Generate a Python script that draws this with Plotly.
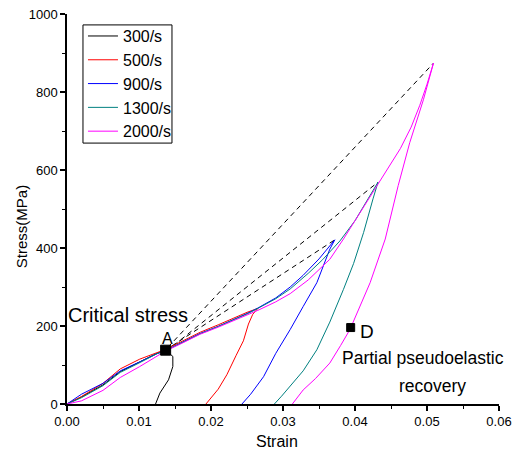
import plotly.graph_objects as go

# ---- data ----
labels = ["300/s", "500/s", "900/s", "1300/s", "2000/s"]
colors = ["#000000", "#ff0000", "#0000ff", "#008080", "#ff00ff"]

strain_300 = [0, 0.002, 0.005, 0.0074, 0.0101, 0.0125, 0.0137, 0.0147, 0.0147, 0.0141, 0.0129, 0.0123]
stress_300 = [0, 18, 49, 83, 108, 130, 138, 122, 96, 62, 28, 0]

strain_500 = [0, 0.002, 0.005, 0.0074, 0.0101, 0.0125, 0.0137, 0.0160, 0.0185, 0.0210, 0.0231, 0.0250, 0.0265,
              0.0258, 0.0252, 0.0245, 0.0235, 0.0222, 0.0210, 0.0200, 0.0193]
stress_500 = [0, 19, 53, 90, 115, 133, 140, 161, 184, 203, 220, 235, 245,
              230, 205, 162, 125, 75, 38, 15, 0]

strain_900 = [0, 0.002, 0.005, 0.0074, 0.0101, 0.0125, 0.0137, 0.0160, 0.0185, 0.0210, 0.0231, 0.0250, 0.0265,
              0.0290, 0.0310, 0.0328, 0.0350, 0.0372,
              0.0365, 0.0347, 0.0328, 0.0310, 0.0290, 0.0273, 0.0255, 0.0243]
stress_900 = [0, 25, 53, 85, 108, 129, 137, 158, 181, 199, 216, 232, 246,
              272, 300, 330, 372, 421,
              397, 311, 250, 191, 130, 70, 25, 0]

strain_1300 = [0, 0.002, 0.005, 0.0074, 0.0101, 0.0125, 0.0137, 0.0160, 0.0185, 0.0210, 0.0231, 0.0250, 0.0265,
               0.0290, 0.0310, 0.0335, 0.0355, 0.0379, 0.0400, 0.0416, 0.0432,
               0.0425, 0.0412, 0.0398, 0.0384, 0.0365, 0.0347, 0.0328, 0.0310, 0.0298, 0.0288]
stress_1300 = [0, 16, 47, 81, 106, 129, 137, 157, 180, 199, 215, 231, 245,
               270, 295, 335, 370, 418, 470, 520, 569,
               526, 440, 360, 294, 210, 139, 85, 45, 20, 0]

strain_2000 = [0, 0.002, 0.005, 0.0074, 0.0101, 0.0125, 0.0137, 0.0160, 0.0185, 0.0210, 0.0231, 0.0250, 0.0265,
               0.0290, 0.0310, 0.0335, 0.0365, 0.0384, 0.0405, 0.0428, 0.0445, 0.0463, 0.0478, 0.0490, 0.0500, 0.0509,
               0.0495, 0.0476, 0.0460, 0.0442, 0.0421, 0.0405, 0.0393, 0.0380, 0.0365, 0.0345, 0.0328, 0.0313]
stress_2000 = [0, 8, 35, 68, 96, 124, 136, 156, 179, 197, 213, 228, 240,
               262, 283, 318, 371, 423, 485, 550, 600, 655, 710, 766, 820, 874,
               780, 670, 560, 423, 311, 240, 191, 150, 105, 65, 36, 0]

series_strain = [strain_300, strain_500, strain_900, strain_1300, strain_2000]
series_stress = [stress_300, stress_500, stress_900, stress_1300, stress_2000]

# dashed guide lines (start near A, end at peaks)
dash_strain = [[0.0145, 0.0372], [0.0148, 0.0432], [0.0140, 0.0509]]
dash_stress = [[148, 421], [150, 569], [145, 874]]

point_strain = [0.0137, 0.0394]
point_stress = [138, 196]

x_ticks = [0.00, 0.01, 0.02, 0.03, 0.04, 0.05, 0.06]
y_ticks = [0, 200, 400, 600, 800, 1000]

FONT = "Arial, 'Liberation Sans', sans-serif"

fig = go.Figure()
for xs, ys in zip(dash_strain, dash_stress):
    fig.add_trace(go.Scatter(x=xs, y=ys, mode="lines", showlegend=False,
                             line=dict(color="black", width=1, dash="5px,4px")))
for lab, col, xs, ys in zip(labels, colors, series_strain, series_stress):
    fig.add_trace(go.Scatter(x=xs, y=ys, mode="lines", name=lab,
                             line=dict(color=col, width=1)))
fig.add_trace(go.Scatter(x=point_strain, y=point_stress, mode="markers", showlegend=False,
                         marker=dict(symbol="square", color="#000000", size=[10, 8], opacity=1,
                                     line=dict(width=1, color="#000000"))))

ann = [
    dict(x=0.00847, y=229, text="Critical stress", size=20),
    dict(x=0.0139, y=168, text="A", size=16),
    dict(x=0.0417, y=187, text="D", size=19),
    dict(x=0.0494, y=119, text="Partial pseudoelastic", size=17.5),
    dict(x=0.0507, y=47, text="recovery", size=17.5),
]
for a in ann:
    fig.add_annotation(x=a["x"], y=a["y"], text=a["text"], showarrow=False,
                       xanchor="center", yanchor="middle",
                       font=dict(family=FONT, color="black", size=a["size"]))

# axis titles placed as annotations (reference titles are off-centre)
fig.add_annotation(x=-0.1065, y=0.456, xref="paper", yref="paper", text="Stress(MPa)",
                   textangle=-90, showarrow=False, xanchor="center", yanchor="middle",
                   font=dict(family=FONT, size=15, color="black"))
fig.add_annotation(x=0.486, y=-0.095, xref="paper", yref="paper", text="Strain",
                   showarrow=False, xanchor="center", yanchor="middle",
                   font=dict(family=FONT, size=16, color="black"))

# legend frame drawn to the reference's box size
fig.add_shape(type="rect", xref="paper", yref="paper", x0=0.037, x1=0.243, y0=0.669, y1=0.972,
              line=dict(color="black", width=1), fillcolor="rgba(0,0,0,0)", layer="above")

axis_common = dict(showline=True, linecolor="black", linewidth=1.5, ticks="outside",
                   tickcolor="black", ticklen=5, tickwidth=1.5, showgrid=False, zeroline=False,
                   automargin=False,
                   tickfont=dict(family=FONT, size=13, color="black"),
                   minor=dict(ticks="outside", ticklen=3, tickcolor="black", tickwidth=1))

fig.update_xaxes(range=[0, 0.06], tickvals=x_ticks, ticktext=[f"{v:.2f}" for v in x_ticks],
                 minor_dtick=0.005, minor_tick0=0, **axis_common)
fig.update_yaxes(range=[0, 1000], tickvals=y_ticks, ticktext=[str(v) for v in y_ticks],
                 minor_dtick=100, minor_tick0=0, **axis_common)

fig.update_layout(
    width=516, height=452,
    margin=dict(l=67, r=17, t=14, b=48, autoexpand=False),
    plot_bgcolor="white", paper_bgcolor="white",
    font=dict(family=FONT, color="black"),
    legend=dict(x=0.037, y=0.987, xanchor="left", yanchor="top",
                borderwidth=0, bgcolor="rgba(0,0,0,0)",
                font=dict(family=FONT, size=16, color="black"),
                tracegroupgap=0, itemwidth=30),
)

fig.write_html("out.html")
